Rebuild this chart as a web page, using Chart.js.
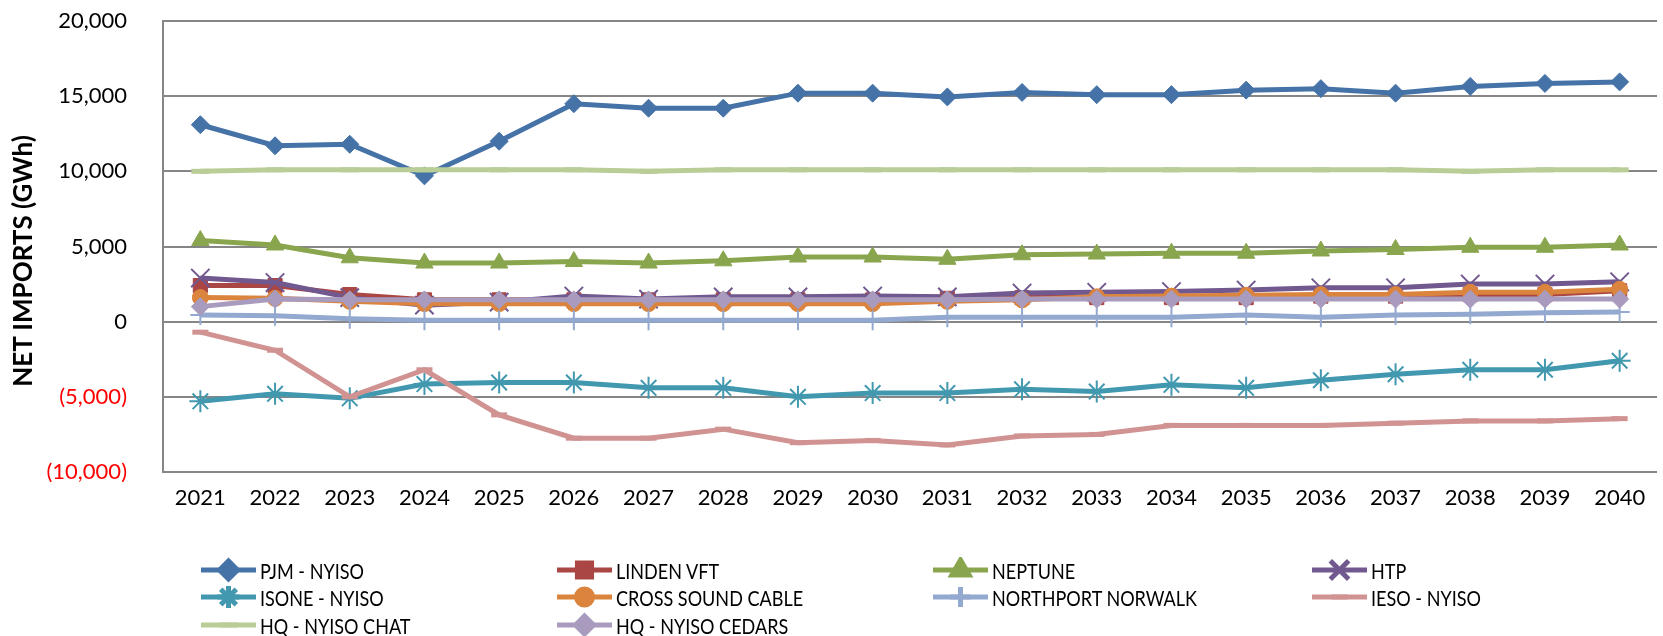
<!DOCTYPE html>
<html>
<head>
<meta charset="utf-8">
<script src="https://cdn.jsdelivr.net/npm/chart.js@4.4.1/dist/chart.umd.min.js"></script>
<style>
  html, body { margin: 0; padding: 0; background: #fff; overflow: hidden; width: 1663px; height: 636px; }
  #wrap { position: absolute; left: 0; top: 0; width: 1672px; height: 530px; }
  #legend { position: absolute; left: 0; top: 0; width: 1663px; height: 636px; }
  #yTitle { position: absolute; left: 22px; top: 261px; transform: translate(-50%, -50%) rotate(-90deg);
            font: bold 26px Lato, sans-serif; color: #000; white-space: nowrap; }
  .item { position: absolute; display: flex; align-items: center; height: 26px; font: 22px Lato, sans-serif; color: #000; white-space: nowrap; }
  .item canvas { margin-right: 4px; }
  .item span { display: inline-block; transform: scaleX(0.82); transform-origin: left center; }
</style>
</head>
<body>
<div id="wrap"><canvas id="importsChart" width="1672" height="530"></canvas></div>
<div id="yTitle">NET IMPORTS (GWh)</div>
<div id="legend"></div>
<script>
// values (GWh)
const years = ['2021', '2022', '2023', '2024', '2025', '2026', '2027', '2028', '2029', '2030',
               '2031', '2032', '2033', '2034', '2035', '2036', '2037', '2038', '2039', '2040'];
const yTicks = [-10000, -5000, 0, 5000, 10000, 15000, 20000];

const pjm = [13100, 11700, 11800, 9700, 12000, 14500, 14200, 14200, 15200, 15200, 14950, 15250, 15100, 15100, 15400, 15500, 15200, 15650, 15850, 15950];
const linden = [2400, 2400, 1800, 1450, 1450, 1450, 1450, 1450, 1450, 1450, 1550, 1600, 1600, 1600, 1600, 1700, 1700, 1800, 1800, 2050];
const neptune = [5400, 5100, 4250, 3900, 3900, 4000, 3900, 4050, 4300, 4300, 4150, 4450, 4500, 4550, 4550, 4700, 4800, 4950, 4950, 5100];
const htp = [2900, 2600, 1600, 1100, 1300, 1700, 1500, 1650, 1650, 1700, 1650, 1900, 1950, 2000, 2100, 2250, 2250, 2500, 2500, 2650];
const isone = [-5300, -4800, -5100, -4150, -4050, -4050, -4400, -4400, -5000, -4750, -4750, -4500, -4650, -4200, -4400, -3900, -3500, -3200, -3200, -2600];
const crossSound = [1600, 1550, 1350, 1200, 1200, 1200, 1200, 1200, 1200, 1200, 1350, 1450, 1650, 1700, 1750, 1800, 1800, 1950, 1950, 2150];
const northport = [450, 400, 200, 100, 100, 100, 100, 100, 100, 100, 300, 300, 300, 300, 450, 300, 450, 500, 600, 650];
const ieso = [-700, -1900, -5000, -3200, -6200, -7750, -7750, -7150, -8050, -7900, -8200, -7600, -7500, -6900, -6900, -6900, -6750, -6600, -6600, -6450];
const hqChat = [10000, 10100, 10100, 10100, 10100, 10100, 10000, 10100, 10100, 10100, 10100, 10100, 10100, 10100, 10100, 10100, 10100, 10000, 10100, 10100];
const hqCedars = [1000, 1500, 1450, 1450, 1450, 1450, 1450, 1450, 1450, 1450, 1450, 1500, 1500, 1500, 1500, 1500, 1500, 1500, 1500, 1500];

const seriesNames = ['PJM - NYISO', 'LINDEN VFT', 'NEPTUNE', 'HTP', 'ISONE - NYISO',
                     'CROSS SOUND CABLE', 'NORTHPORT NORWALK', 'IESO - NYISO', 'HQ - NYISO CHAT', 'HQ - NYISO CEDARS'];
const seriesValues = [pjm, linden, neptune, htp, isone, crossSound, northport, ieso, hqChat, hqCedars];

// Excel 2007 palette
const colors = ['#4572A7', '#AA4643', '#89A54E', '#71588F', '#4198AF', '#DB843D', '#93A9CF', '#D19392', '#B9CD96', '#A99BBD'];
const markers = [
  { style: 'rectRot', r: 9, bw: 1 },
  { style: 'rect', r: 10, bw: 1 },
  { style: 'triangle', r: 10, bw: 1 },
  { style: 'crossRot', r: 13, bw: 2 },
  { style: 'star', r: 11, bw: 2 },
  { style: 'circle', r: 8, bw: 1 },
  { style: 'cross', r: 10, bw: 2 },
  { style: 'line', r: 8, bw: 5 },
  { style: 'line', r: 9, bw: 5 },
  { style: 'rectRot', r: 9, bw: 1 }
];

Chart.defaults.font.family = 'Lato, sans-serif';

const datasets = seriesNames.map((name, i) => ({
  label: name,
  data: seriesValues[i],
  borderColor: colors[i],
  backgroundColor: colors[i],
  borderWidth: 5,
  tension: 0,
  pointStyle: markers[i].style,
  pointRadius: markers[i].r,
  pointHoverRadius: markers[i].r,
  pointBorderWidth: markers[i].bw,
  pointBackgroundColor: colors[i],
  pointBorderColor: colors[i],
  order: seriesNames.length - i // later series on top, like the original
}));

const chart = new Chart(document.getElementById('importsChart'), {
  type: 'line',
  data: { labels: years, datasets: datasets },
  options: {
    responsive: false,
    animation: false,
    layout: { padding: { top: 21, right: 0, bottom: 0, left: 0 } },
    plugins: { legend: { display: false }, tooltip: { enabled: false } },
    scales: {
      x: {
        offset: true,
        grid: { display: false, drawTicks: false },
        border: { display: false },
        ticks: { font: { size: 22 }, color: '#000', padding: 13, maxRotation: 0, autoSkip: false },
        afterFit: s => { s.height = 58; s.paddingLeft = 0; s.paddingRight = 0; }
      },
      y: {
        min: yTicks[0],
        max: yTicks[yTicks.length - 1],
        afterBuildTicks: s => { s.ticks = yTicks.map(v => ({ value: v })); },
        grid: { color: '#868686', lineWidth: 2, drawTicks: false },
        border: { color: '#868686', width: 2 },
        ticks: {
          font: { size: 22 },
          padding: 36,
          color: c => c.tick.value < 0 ? '#FF0000' : '#000',
          callback: v => v < 0 ? '(' + Math.abs(v).toLocaleString('en-US') + ')' : v.toLocaleString('en-US')
        },
        // axis title is the rotated #yTitle div, placed like the original
        afterFit: s => { s.width = 163; s.paddingTop = 0; s.paddingBottom = 0; }
      }
    }
  }
});

// legend laid out in four columns like the original
const colX = [201, 557, 933, 1312];
const rowY = [570, 597, 625];
const legendBox = document.getElementById('legend');
seriesNames.forEach((name, i) => {
  const item = document.createElement('div');
  item.className = 'item';
  item.style.left = colX[i % 4] + 'px';
  item.style.top = (rowY[Math.floor(i / 4)] - 13) + 'px';
  const c = document.createElement('canvas');
  c.width = 55; c.height = 26;
  const ctx = c.getContext('2d');
  ctx.strokeStyle = colors[i];
  ctx.fillStyle = colors[i];
  ctx.lineWidth = 5;
  ctx.beginPath(); ctx.moveTo(0, 13); ctx.lineTo(55, 13); ctx.stroke();
  Chart.helpers.drawPoint(ctx, { pointStyle: markers[i].style, radius: markers[i].r, borderWidth: markers[i].bw, rotation: 0 }, 27.5, 13);
  item.appendChild(c);
  const t = document.createElement('span');
  t.textContent = name;
  item.appendChild(t);
  legendBox.appendChild(item);
});
</script>
</body>
</html>
